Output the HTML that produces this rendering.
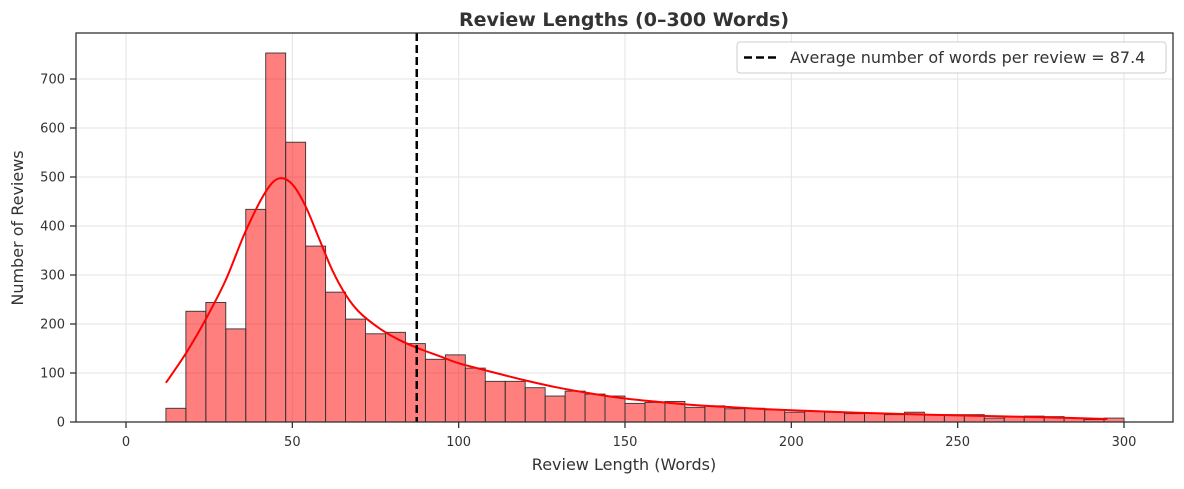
<!DOCTYPE html>
<html><head><meta charset="utf-8"><style>
body{margin:0;background:#fff;font-family:"Liberation Sans","DejaVu Sans",sans-serif;}
svg text{font-family:"DejaVu Sans","Liberation Sans",sans-serif;}
</style></head><body>
<svg id="chart" width="1184" height="484" xmlns="http://www.w3.org/2000/svg">
<text x="624" y="26" text-anchor="middle" font-size="19" font-weight="bold" fill="#333">Review Lengths (0–300 Words)</text>
<g id="grid"></g><g id="bars"></g><g id="kde"></g>
<line id="meanline" y1="33" y2="422" stroke="#000" stroke-width="2.5" stroke-dasharray="8,4"/>
<rect x="76" y="33" width="1097" height="389" fill="none" stroke="#333" stroke-width="1.3"/>
<g id="ticks"></g>
<text x="624" y="470" text-anchor="middle" font-size="16" fill="#333">Review Length (Words)</text>
<text transform="translate(23,228) rotate(-90)" text-anchor="middle" font-size="16" fill="#333">Number of Reviews</text>
<g>
<rect x="737" y="42" width="429" height="31" rx="3" fill="#fff" stroke="#ccc"/>
<line x1="744" y1="57.5" x2="778" y2="57.5" stroke="#000" stroke-width="2.5" stroke-dasharray="8,4"/>
<text x="790" y="63" font-size="16" fill="#333">Average number of words per review = 87.4</text>
</g>
</svg>
<script>
const binStart=12, binWidth=6;
const counts=[28,226,244,190,434,753,571,359,265,210,180,183,160,128,137,110,83,83,70,53,63,57,53,38,40,42,30,33,27,28,25,20,22,20,17,18,15,20,15,15,15,8,10,12,11,8,5,8];
const kdeX=[12,18,24,30,36,42,46,50,54,58,62,66,70,76,82,88,94,100,110,120,130,140,150,160,170,180,190,200,220,240,260,280,295];
const kdeY=[80,140,210,290,390,470,497,485,440,375,310,260,225,192,168,150,135,120,102,85,70,58,48,41,35,31,27,24,19,15,12,9,6];
const meanValue=87.4;
const xTicks=[0,50,100,150,200,250,300];
const yTicks=[0,100,200,300,400,500,600,700];
const NS="http://www.w3.org/2000/svg";
const X=v=>126+v*(998/300);
const Y=v=>422-v*(343/700);
function mk(t,a,p){const e=document.createElementNS(NS,t);for(const k in a)e.setAttribute(k,a[k]);p.appendChild(e);return e;}
const grid=document.getElementById('grid'),ticks=document.getElementById('ticks');
xTicks.forEach(t=>{
 const g=mk('line',{x1:X(t),x2:X(t),y1:33,y2:422,stroke:'#e3e3e3','stroke-width':1},grid);
 
 
 const k=mk('line',{x1:X(t),x2:X(t),y1:422,y2:428,stroke:'#333','stroke-width':1.3},ticks);
 
 
 const l=mk('text',{x:X(t),y:446,'text-anchor':'middle','font-size':13,fill:'#333'},ticks);l.textContent=t;
 
 
});
yTicks.forEach(t=>{
 const g=mk('line',{x1:76,x2:1173,y1:Y(t),y2:Y(t),stroke:'#e3e3e3','stroke-width':1},grid);
 
 
 const k=mk('line',{x1:70,x2:76,y1:Y(t),y2:Y(t),stroke:'#333','stroke-width':1.3},ticks);
 
 
 const l=mk('text',{x:65,y:Y(t)+4.5,'text-anchor':'end','font-size':13,fill:'#333'},ticks);l.textContent=t;
 
 
});
const bars=document.getElementById('bars');
counts.forEach((c,i)=>{
 const x0=X(binStart+i*binWidth),x1=X(binStart+(i+1)*binWidth);
 const r=mk('rect',{x:x0,y:Y(c),width:x1-x0,height:Y(0)-Y(c),fill:'rgba(255,0,0,0.5)',stroke:'#333','stroke-width':0.9},bars);
 
 
});
const pts=kdeX.map((x,i)=>[X(x),Y(kdeY[i])]);
let d='M'+pts[0][0]+','+pts[0][1];
for(let i=0;i<pts.length-1;i++){
 const p0=pts[Math.max(0,i-1)],p1=pts[i],p2=pts[i+1],p3=pts[Math.min(pts.length-1,i+2)];
 const c1=[p1[0]+(p2[0]-p0[0])/6,p1[1]+(p2[1]-p0[1])/6],c2=[p2[0]-(p3[0]-p1[0])/6,p2[1]-(p3[1]-p1[1])/6];
 d+=`C${c1[0]},${c1[1]} ${c2[0]},${c2[1]} ${p2[0]},${p2[1]}`;
}
const kp=mk('path',{d:d,fill:'none',stroke:'#ff0000','stroke-width':2},document.getElementById('kde'));


const ml=document.getElementById('meanline');ml.setAttribute('x1',X(meanValue));ml.setAttribute('x2',X(meanValue));
</script>
</body></html>
